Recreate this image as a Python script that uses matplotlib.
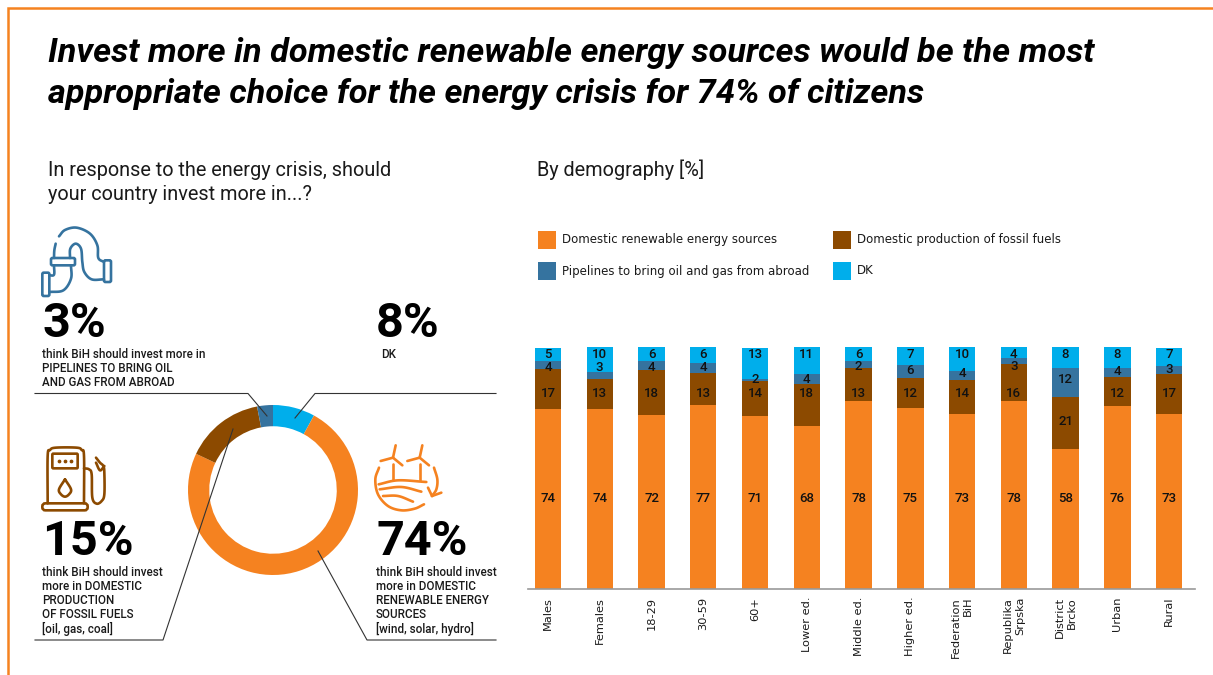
import matplotlib
matplotlib.use('Agg')
import matplotlib.pyplot as plt
import numpy as np
from matplotlib.patches import FancyBboxPatch, Rectangle

W, H = 1213, 675

ORANGE = '#F58220'
BROWN = '#8C4A00'
STEEL = '#35739F'
BLUE = '#00AEEB'
TXT = '#1a1a1a'

groups = ['Males', 'Females', '18-29', '30-59', '60+', 'Lower ed.', 'Middle ed.', 'Higher ed.',
          'Federation\nBiH', 'Republika\nSrpska', 'District\nBrcko', 'Urban', 'Rural']

# segment sizes as measured from the bars (source numbers were not rounded)
renewable = [74.3, 74.3, 71.8, 76.3, 71.4, 67.6, 78.0, 75.1, 72.6, 77.6, 57.7, 75.9, 72.6]
fossil = [16.7, 12.5, 18.7, 13.3, 14.5, 17.4, 13.3, 12.4, 14.1, 15.4, 21.6, 12.0, 16.6]
pipelines = [3.6, 2.9, 3.7, 4.1, 1.2, 4.1, 2.9, 5.4, 3.7, 2.5, 12.4, 3.7, 3.3]
dk = [5.4, 10.4, 6.2, 6.6, 12.9, 11.2, 6.2, 7.5, 10.0, 4.6, 8.7, 8.7, 7.5]

# printed labels
renewable_lbl = [74, 74, 72, 77, 71, 68, 78, 75, 73, 78, 58, 76, 73]
fossil_lbl = [17, 13, 18, 13, 14, 18, 13, 12, 14, 16, 21, 12, 17]
pipelines_lbl = [4, 3, 4, 4, 2, 4, 2, 6, 4, 3, 12, 4, 3]
dk_lbl = [5, 10, 6, 6, 13, 11, 6, 7, 10, 4, 8, 8, 7]

series_names = ['Domestic renewable energy sources', 'Domestic production of fossil fuels',
                'Pipelines to bring oil and gas from abroad', 'DK']

# clockwise from the top
donut_values = [8, 74, 15, 3]
donut_colors = [BLUE, ORANGE, BROWN, STEEL]

plt.rcParams['font.family'] = ['Roboto', 'DejaVu Sans']

fig = plt.figure(figsize=(W / 100, H / 100), dpi=100)


def axes_px(x0, y0, x1, y1):
    return fig.add_axes([x0 / W, 1 - y1 / H, (x1 - x0) / W, (y1 - y0) / H])


# stacked bars
BASE_Y = 588.5
UNIT = 2.41
ax = axes_px(528, 340, 1195, BASE_Y)
ax.set_xlim(-0.386, 12.5)
ax.set_ylim(0, (BASE_Y - 340) / UNIT)
pos = list(range(len(groups)))
bottom = [0] * len(groups)
for vals, col in zip([renewable, fossil, pipelines, dk], [ORANGE, BROWN, STEEL, BLUE]):
    ax.bar(pos, vals, 0.51, bottom=bottom, color=col)
    bottom = [b + v for b, v in zip(bottom, vals)]

# the labels sit in rows in the original, not centred on each segment
row_renewable = [498] * 13
row_fossil = [393] * 10 + [421] + [393] * 2
row_pipelines = [367, 367, 367, 367, 379, 379, 366, 370, 373, 366, 379, 371, 369]
row_dk = [354] * 13
for lbls, rows in zip([renewable_lbl, fossil_lbl, pipelines_lbl, dk_lbl],
                      [row_renewable, row_fossil, row_pipelines, row_dk]):
    for i, (lb, ry) in enumerate(zip(lbls, rows)):
        ax.text(i, (BASE_Y - ry) / UNIT, str(lb), ha='center', va='center', fontsize=9.5,
                fontweight='medium', color='#111111')

ax.set_xticks(pos)
ax.set_xticklabels(groups, rotation=90, fontsize=8.2, family='DejaVu Sans', ma='right', color=TXT,
                   linespacing=1.3)
ax.tick_params(axis='x', length=0, pad=6)
ax.set_yticks([])
for s in ['top', 'left', 'right']:
    ax.spines[s].set_visible(False)
ax.spines['bottom'].set_color('#999999')
ax.spines['bottom'].set_linewidth(1.2)

# donut
ax_d = axes_px(188, 405, 358, 575)
ax_d.pie(donut_values, colors=donut_colors, startangle=90, counterclock=False, radius=1,
         wedgeprops={'width': 0.25})
ax_d.set_xlim(-1, 1)
ax_d.set_ylim(-1, 1)

# overlay in pixel coordinates
ov = fig.add_axes([0, 0, 1, 1], facecolor='none')
ov.set_xlim(0, W)
ov.set_ylim(H, 0)
ov.axis('off')

# frame
ov.plot([8, 8, W], [H, 8, 8], color=ORANGE, lw=1.8, solid_joinstyle='miter')

ov.text(48, 53, 'Invest more in domestic renewable energy sources would be the most', fontsize=24.7,
        fontweight='bold', style='italic', color='black', va='center')
ov.text(48, 94, 'appropriate choice for the energy crisis for 74% of citizens', fontsize=24.7,
        fontweight='bold', style='italic', color='black', va='center')

ov.text(48, 170, 'In response to the energy crisis, should', fontsize=14.3, color=TXT, va='center')
ov.text(48, 195, 'your country invest more in...?', fontsize=14.3, color=TXT, va='center')
ov.text(537, 170, 'By demography [%]', fontsize=14.3, color=TXT, va='center')

# legend
leg_pos = [(538, 231), (833, 231), (538, 262), (833, 262)]
for (lx, ly), name, col in zip(leg_pos, series_names, [ORANGE, BROWN, STEEL, BLUE]):
    ov.add_patch(Rectangle((lx, ly), 18, 18, color=col, lw=0))
    ov.text(lx + 24, ly + 9, name, fontsize=8.5, family='DejaVu Sans', color=TXT, va='center')

# stats
stat_x = [42, 376, 42, 376]
stat_y = [324, 324, 542, 542]
stat_txt = ['3%', '8%', '15%', '74%']
for sx, sy, st in zip(stat_x, stat_y, stat_txt):
    ov.text(sx, sy, st, fontsize=35, fontweight='bold', color='black', va='center')


def block(x, y, lines):
    for i, line in enumerate(lines):
        ov.text(x, y + i * 14.3, line, fontsize=8.4, fontweight='medium', color=TXT, va='center')


block(42, 354, ['think BiH should invest more in', 'PIPELINES TO BRING OIL', 'AND GAS FROM ABROAD'])
block(381, 354, ['DK'])
block(42, 572, ['think BiH should invest', 'more in DOMESTIC', 'PRODUCTION', 'OF FOSSIL FUELS', '[oil, gas, coal]'])
block(376, 572, ['think BiH should invest', 'more in DOMESTIC', 'RENEWABLE ENERGY', 'SOURCES', '[wind, solar, hydro]'])

# leader lines
leaders = [([35, 248, 267], [393.5, 393.5, 416]),
           ([496, 315, 295], [393.5, 393.5, 418]),
           ([35, 163, 233], [640, 640, 429]),
           ([496, 367, 318], [640, 640, 551])]
for lx, ly in leaders:
    ov.plot(lx, ly, color='#333333', lw=0.8)


# icons, traced by hand from 3x crops (ox, oy = crop corner)
def smooth(pts, n=12):
    p = np.array(pts, float)
    if len(p) < 3:
        return p
    p = np.vstack([2 * p[0] - p[1], p, 2 * p[-1] - p[-2]])
    out = []
    for i in range(1, len(p) - 2):
        for t in np.linspace(0, 1, n, endpoint=False):
            out.append(0.5 * (2 * p[i] + (p[i + 1] - p[i - 1]) * t
                              + (2 * p[i - 1] - 5 * p[i] + 4 * p[i + 1] - p[i + 2]) * t ** 2
                              + (3 * p[i] - p[i - 1] - 3 * p[i + 1] + p[i + 2]) * t ** 3))
    out.append(p[-2])
    return np.array(out)


def stroke(pts, col, ox, oy, lw=1.9):
    s = smooth(pts)
    ov.plot(s[:, 0] / 3 + ox, s[:, 1] / 3 + oy, color=col, lw=lw, solid_capstyle='round')


def rbox(x0, y0, x1, y1, col, ox, oy, rad=1.5, lw=1.9):
    ov.add_patch(FancyBboxPatch((x0 / 3 + ox, y0 / 3 + oy), (x1 - x0) / 3, (y1 - y0) / 3,
                                boxstyle='round,pad=0,rounding_size=%s' % rad, fill=False,
                                edgecolor=col, lw=lw))


# pipe
ox, oy = 35, 222
rbox(48, 108, 120, 130, STEEL, ox, oy)
rbox(207, 115, 228, 180, STEEL, ox, oy)
rbox(22, 152, 43, 222, STEEL, ox, oy)
stroke([(72, 43), (90, 24), (125, 17), (165, 35), (187, 70), (190, 108), (207, 120)], STEEL, ox, oy)
stroke([(62, 65), (58, 85), (57, 108)], STEEL, ox, oy)
stroke([(105, 108), (106, 80), (122, 65), (138, 80), (142, 120), (148, 150), (170, 172), (207, 172)], STEEL, ox, oy)
stroke([(57, 130), (57, 158), (43, 160)], STEEL, ox, oy)
stroke([(108, 130), (108, 170), (85, 205), (43, 210)], STEEL, ox, oy)

# fuel pump
ox, oy = 35, 441
stroke([(38, 187), (38, 45), (45, 27), (62, 20), (125, 20), (140, 27), (147, 45), (147, 187)], BROWN, ox, oy)
rbox(22, 187, 158, 208, BROWN, ox, oy, rad=3)
rbox(52, 38, 128, 82, BROWN, ox, oy, rad=1)
ov.plot([72 / 3 + ox, 90 / 3 + ox, 108 / 3 + ox], [61 / 3 + oy] * 3, ls='none', marker='o', ms=1.7, color=BROWN)
stroke([(90, 115), (72, 145), (78, 160), (90, 167), (102, 160), (108, 145), (90, 115)], BROWN, ox, oy)
stroke([(147, 82), (162, 85), (170, 100), (172, 170), (185, 188), (200, 180), (208, 160), (208, 95),
        (205, 75), (195, 65), (183, 50)], BROWN, ox, oy)
stroke([(183, 65), (195, 88), (208, 75)], BROWN, ox, oy)

# wind and land
ox, oy = 368, 441
for tx in [75, 155]:
    stroke([(tx, 70), (tx, 118)], ORANGE, ox, oy)
    stroke([(tx, 50), (tx + 8, 13)], ORANGE, ox, oy)
    stroke([(tx, 50), (tx - 37, 60)], ORANGE, ox, oy)
    stroke([(tx, 50), (tx + 28, 73)], ORANGE, ox, oy)
stroke([(33, 80), (22, 115), (30, 160), (60, 195), (100, 208), (140, 203), (168, 190)], ORANGE, ox, oy)
stroke([(32, 130), (90, 118), (175, 123)], ORANGE, ox, oy)
stroke([(35, 145), (100, 138), (160, 152)], ORANGE, ox, oy)
stroke([(45, 165), (90, 165), (135, 182)], ORANGE, ox, oy)
stroke([(198, 80), (208, 115), (205, 145), (192, 165)], ORANGE, ox, oy)
stroke([(180, 140), (192, 165)], ORANGE, ox, oy)
stroke([(192, 165), (220, 155)], ORANGE, ox, oy)

fig.savefig('out.png', dpi=100)
